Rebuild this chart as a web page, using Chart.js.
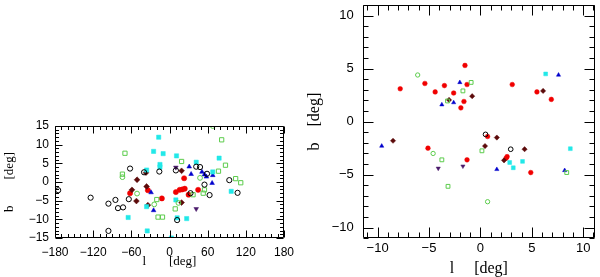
<!DOCTYPE html>
<html>
<head>
<meta charset="utf-8">
<script src="https://cdn.jsdelivr.net/npm/chart.js@4.4.0/dist/chart.umd.min.js"></script>
<style>
  html, body { margin: 0; padding: 0; background: #fff; }
  #wrap { position: relative; width: 600px; height: 277px; }
  canvas { position: absolute; top: 0; }
  #wide { left: 0; }
  #zoom { left: 300px; }
</style>
</head>
<body>
<div id="wrap">
  <canvas id="wide" width="300" height="277"></canvas>
  <canvas id="zoom" width="300" height="277"></canvas>
</div>
<script>
// whole sky panel, [l, b] in deg
const wideRed = [[-62, -3.0], [-34, -2.2], [-12, -4.4], [10, -2.7], [16, -2.1], [20, -2.0], [24, -1.8], [30, -3.4], [45, -2.1], [23, 1.0]];
const wideMaroon = [[-59, -2.1], [-51, 0.6], [-52, -5.1], [-36, -1.2], [-34, -6.2], [-37, 2.5], [19, 3.0], [19, -5.5]];
const wideBlue = [[-29, -2.8], [-25, -7.6], [31, 4.1], [34, 2.1], [51, 2.7], [55, 2.0], [58, 1.4], [68, 1.8], [67, -0.3]];
const widePurple = [[10, 3.9], [42, -7.2]];
const wideCyan = [[-17, 12], [-25, 8.2], [-10, 7.6], [11, 7.0], [-15, 4.7], [-15, 4.0], [-36, 3.2], [42, 5.3], [78, 6.4], [68, 2.7],
                  [97, -2.5], [-65, -9.5], [12, -9.6], [27, -9.8], [10, -4.8], [-35, -13.1], [3, -15], [-36, -6.6]];
const wideGreenSq = [[-70, 7.7], [-74, 2.1], [82, 11.3], [19, 5.5], [88, 4.5], [77, 2.9], [104, 0.9], [112, -0.2], [53, -3.0], [55, -2.1],
                     [37, -3.4], [9, -7.2], [-20, -4.7], [-18, -9.4], [-11, -9.4]];
const wideGreenCirc = [[-74, 1.3], [-51, -3.1], [-24, -6.0], [14, -5.6], [48, 1.1], [68, 15]];
const wideBlack = [[-175, -2.2], [-124, -4.2], [-96, -5.8], [-85, -4.8], [-81, -7.0], [-73, -6.8], [-64, -4.6], [-62, 3.6], [-40, 2.6], [-16, 2.8],
                   [10, 3.1], [12, -10.2], [33, -3.0], [42, 4.1], [48, 4.0], [55, -0.7], [59, 2.2], [63, -3.5], [94, 0.5], [107, -2.9], [-96, -13.1]];

// central zoom panel
const zoomRed = [[-7.8, 3.1], [-5.4, 3.6], [-4.4, 2.8], [-3.5, 3.4], [-2.6, 2.7], [-1.5, 5.3], [-1.3, 3.5], [-1.6, 1.9], [-1.9, 1.3], [3.1, 3.5],
                 [5.5, 2.8], [6.9, 2.1], [0.7, -1.4], [-5.1, -2.5], [-1.3, -3.6], [2.6, -3.3], [2.5, -3.45], [4.9, -4.8]];
const zoomMaroon = [[-3.05, 2.05], [-0.8, 2.4], [6.1, 2.9], [1.6, -1.5], [-8.5, -1.8], [0.45, -2.3], [4.3, -2.6], [2.3, -3.65]];
const zoomBlue = [[-2.0, 3.7], [-3.75, 1.6], [-2.6, 1.8], [7.6, 4.4], [-9.6, -2.3], [1.6, -4.5], [8.2, -4.6]];
const zoomPurple = [[-4.1, -4.4], [-1.7, -4.2]];
const zoomCyan = [[6.35, 4.5], [2.85, -3.85], [3.2, -4.35], [4.1, -3.75], [8.75, -2.55]];
const zoomGreenSq = [[-0.9, 3.7], [-1.7, 2.9], [-3.2, 1.95], [-3.75, -3.6], [-3.15, -6.1], [0.15, -2.75], [8.4, -4.8]];
const zoomGreenCirc = [[-6.1, 4.4], [-4.6, -3.0], [0.7, -7.55]];
const zoomBlack = [[0.5, -1.2], [2.95, -2.6]];

const RED = '#f00000', MAROON = '#5c0a0a', BLUE = '#0000cc', PURPLE = '#4a1a6a',
      CYAN = '#22e8e8', GREEN = '#5ccc4c', BLACK = '#000';

function fmt(v) {
  return String(v).replace('-', '\u2212');
}

// one scatter dataset per marker kind
function series(data, style, color, open, r, rot) {
  return {
    data: data.map(p => ({x: p[0], y: p[1]})),
    pointStyle: style,
    pointRadius: r,
    pointRotation: rot || 0,
    pointBackgroundColor: open ? 'rgba(0,0,0,0)' : color,
    pointBorderColor: color,
    pointBorderWidth: open ? 1 : 0.5,
    showLine: false,
    clip: 0
  };
}

function sets(g, k) {
  return [
    series(g.black, 'circle', BLACK, true, 2.6 * k),
    series(g.greenCirc, 'circle', GREEN, true, 2.4 * k),
    series(g.greenSq, 'rect', GREEN, true, 3.0 * k),
    series(g.cyan, 'rect', CYAN, false, 3.0 * k),
    series(g.purple, 'triangle', PURPLE, false, 2.7 * k, 180),
    series(g.blue, 'triangle', BLUE, false, 2.7 * k),
    series(g.maroon, 'rectRot', MAROON, false, 2.9 * k),
    series(g.red, 'circle', RED, false, 2.6 * k)
  ];
}

// frame with inward major/minor ticks on all four sides
const boxTicks = {
  id: 'boxTicks',
  afterDraw(chart, args, o) {
    const {ctx, chartArea: a, scales: {x, y}} = chart;
    const L = Math.round(a.left) + 0.5, R = Math.round(a.right) - 0.5;
    const T = Math.round(a.top) + 0.5, B = Math.round(a.bottom) - 0.5;
    ctx.save();
    ctx.strokeStyle = '#000';
    ctx.lineWidth = 1;
    ctx.beginPath();
    ctx.rect(L, T, R - L, B - T);
    const i0 = Math.ceil(x.min / o.xMinor), i1 = Math.floor(x.max / o.xMinor);
    for (let i = i0; i <= i1; i++) {
      const v = i * o.xMinor;
      const len = Math.abs(v % o.xMajor) < 1e-6 ? o.major : o.minor;
      const px = Math.round(x.getPixelForValue(v)) + 0.5;
      ctx.moveTo(px, B); ctx.lineTo(px, B - len);
      ctx.moveTo(px, T); ctx.lineTo(px, T + len);
    }
    const j0 = Math.ceil(y.min / o.yMinor), j1 = Math.floor(y.max / o.yMinor);
    for (let j = j0; j <= j1; j++) {
      const v = j * o.yMinor;
      const len = Math.abs(v % o.yMajor) < 1e-6 ? o.major : o.minor;
      const py = Math.round(y.getPixelForValue(v)) + 0.5;
      ctx.moveTo(L, py); ctx.lineTo(L + len, py);
      ctx.moveTo(R, py); ctx.lineTo(R - len, py);
    }
    ctx.stroke();
    ctx.restore();
  }
};

function axis(min, max, step, pad, fontSize, title, tFont, tPad, fitFn) {
  return {
    type: 'linear', min: min, max: max,
    grid: {display: false, drawTicks: false},
    border: {display: false},
    ticks: {
      stepSize: step, includeBounds: false, padding: pad, maxRotation: 0, autoSkip: false,
      color: '#000', font: {family: 'Liberation Sans', size: fontSize},
      callback: fmt
    },
    title: {
      display: true, text: title, color: '#000',
      font: tFont, padding: tPad
    },
    afterFit: fitFn
  };
}

function makeChart(id, groups, k, xs, ys, pad, ticks) {
  return new Chart(document.getElementById(id), {
    type: 'scatter',
    data: {datasets: sets(groups, k)},
    options: {
      responsive: false,
      animation: false,
      events: [],
      layout: {padding: pad},
      plugins: {legend: {display: false}, tooltip: {enabled: false}, boxTicks: ticks},
      scales: {x: xs, y: ys}
    },
    plugins: [boxTicks]
  });
}

makeChart('wide',
  {red: wideRed, maroon: wideMaroon, blue: wideBlue, purple: widePurple, cyan: wideCyan,
   greenSq: wideGreenSq, greenCirc: wideGreenCirc, black: wideBlack},
  1,
  axis(-180, 180, 60, 7, 12, 'l       [deg]', {family: 'Liberation Serif', size: 13, lineHeight: 1.2}, {top: 0, bottom: 8},
       s => { s.height = 39; s.paddingLeft = 0; s.paddingRight = 0; }),
  axis(-15, 15, 5, 6, 12, 'b        [deg]', {family: 'Liberation Serif', size: 13, lineHeight: 1.2}, {top: 2, bottom: 0},
       s => { s.width = 55; s.paddingTop = 0; s.paddingBottom = 0; }),
  {left: 0, right: 16, top: 126, bottom: 0},
  {xMinor: 10, xMajor: 60, yMinor: 1, yMajor: 5, major: 7, minor: 3.5});

makeChart('zoom',
  {red: zoomRed, maroon: zoomMaroon, blue: zoomBlue, purple: zoomPurple, cyan: zoomCyan,
   greenSq: zoomGreenSq, greenCirc: zoomGreenCirc, black: zoomBlack},
  0.9,
  axis(-11.45, 11.15, 5, 2, 13, 'l     [deg]', {family: 'Liberation Serif', size: 16, lineHeight: 1}, {top: 0, bottom: 0},
       s => { s.height = 38.7; s.paddingLeft = 0; s.paddingRight = 0; }),
  axis(-11, 11, 5, 9, 13, 'b    [deg]', {family: 'Liberation Serif', size: 16, lineHeight: 1}, {top: 7, bottom: 0},
       s => { s.width = 62.7; s.paddingTop = 0; s.paddingBottom = 0; }),
  {left: 0, right: 2, top: 2.7, bottom: 0},
  {xMinor: 1, xMajor: 5, yMinor: 1, yMajor: 5, major: 10, minor: 5});
</script>
</body>
</html>
